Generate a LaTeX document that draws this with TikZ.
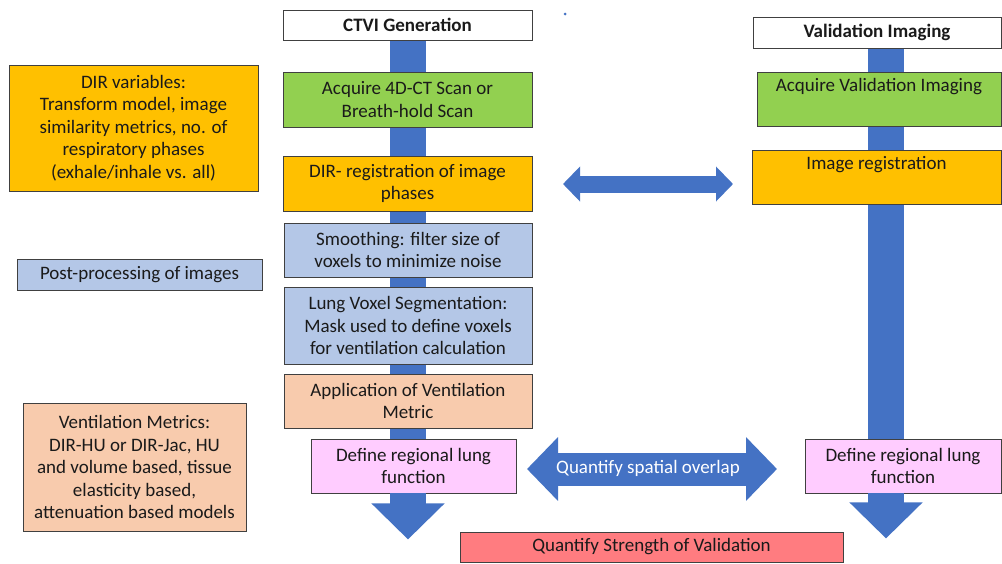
\documentclass[tikz,border=0pt]{standalone}
\usepackage{fontspec}
\setmainfont{Carlito}
\usetikzlibrary{arrows.meta}
\definecolor{boxline}{HTML}{404040}
\definecolor{textc}{HTML}{1A1A1A}
\definecolor{cgreen}{HTML}{92D050}
\definecolor{corange}{HTML}{FFC000}
\definecolor{cblue}{HTML}{B4C7E7}
\definecolor{cpeach}{HTML}{F8CBAD}
\definecolor{cpink}{HTML}{FFCCFF}
\definecolor{cred}{HTML}{FF7C80}
\definecolor{arrowblue}{HTML}{4472C4}
\newcommand\myfont{\fontsize{19}{22.5}\selectfont}
\pgfdeclarelayer{background}
\pgfsetlayers{background,main}
\tikzset{
  pbox/.style={draw=boxline, line width=0.9pt, align=center, inner sep=2pt, font=\myfont, text=textc},
  trunk/.style={draw=arrowblue, line width=36pt},
}
\begin{document}
\begin{tikzpicture}[x=1pt,y=-1pt]
\useasboundingbox (0,0) rectangle (1002,563);

% coordinates for trunks
\coordinate (ltop) at (408,40);
\coordinate (rtop) at (886,48);

% column titles
\node[pbox, fill=white, minimum width=249, minimum height=30] (ctvi) at (407.5,25) {\textbf{CTVI Generation}};
\node[pbox, fill=white, minimum width=248, minimum height=31] (valimg) at (877,32.5) {\textbf{Validation Imaging}};

% left column boxes
\node[pbox, fill=cgreen, minimum width=249, minimum height=55] (acq4d) at (407.5,99.5) {Acquire 4D-CT Scan or\\Breath-hold Scan};
\node[pbox, fill=corange, minimum width=249, minimum height=55] (dirreg) at (407.5,183.5) {DIR- registration of image\\phases};
\node[pbox, fill=cblue, minimum width=248, minimum height=54] (smooth) at (408,250) {Smoothing: filter size of\\voxels to minimize noise};
\node[pbox, fill=cblue, minimum width=248, minimum height=77] (lungseg) at (408,325.5) {Lung Voxel Segmentation:\\Mask used to define voxels\\for ventilation calculation};
\node[pbox, fill=cpeach, minimum width=248, minimum height=54] (applic) at (408,401) {Application of Ventilation\\Metric};
\node[pbox, fill=cpink, minimum width=205, minimum height=54] (defL) at (413.5,466) {Define regional lung\\function};

% right column boxes
\node[pbox, fill=cgreen, minimum width=244, minimum height=54] (acqV) at (879,99) {};
\node[font=\myfont, text=textc] (acqVt) at ([yshift=-15pt]acqV.north) {Acquire Validation Imaging};
\node[pbox, fill=corange, minimum width=249, minimum height=54] (imgreg) at (876.5,177) {};
\node[font=\myfont, text=textc] (imgregt) at ([yshift=-15pt]imgreg.north) {Image registration};
\node[pbox, fill=cpink, minimum width=196, minimum height=54] (defR) at (903,466) {Define regional lung\\function};

% trunks behind boxes
\begin{pgfonlayer}{background}
\fill[white] (0,0) rectangle (1002,563);
\draw[trunk] (ltop) -- (ltop |- defL.north);
\draw[trunk] (rtop) -- (rtop |- defR.north);
\end{pgfonlayer}
\draw[trunk, -{Triangle[length=36pt,width=71pt]}] (ltop |- defL.south) -- ++(0,46);
\draw[trunk, -{Triangle[length=36pt,width=71pt]}] (rtop |- defR.south) -- ++(0,45);

% bottom box
\node[pbox, fill=cred, minimum width=383, minimum height=30] (quant) at (651.5,547) {Quantify Strength of Validation};

% left info boxes
\node[pbox, fill=corange, minimum width=249, minimum height=126] (dirvar) at (133.5,128) {DIR variables:\\Transform model, image\\similarity metrics, no. of\\respiratory phases\\(exhale/inhale vs. all)};
\node[pbox, fill=cblue, minimum width=245, minimum height=31] (post) at (139.5,274.5) {Post-processing of images};
\node[pbox, fill=cpeach, minimum width=223, minimum height=128] (ventm) at (134.5,467) {Ventilation Metrics:\\DIR-HU or DIR-Jac, HU\\and volume based, tissue\\elasticity based,\\attenuation based models};

% double arrows
\coordinate (da1) at (563,184);
\coordinate (da2) at (733,184);
\draw[draw=arrowblue, line width=17pt, {Triangle[length=17pt,width=34pt]}-{Triangle[length=17pt,width=34pt]}] (da1) -- (da2);
\coordinate (db1) at (527,469);
\coordinate (db2) at (777,469);
\draw[draw=arrowblue, line width=33pt, {Triangle[length=31pt,width=62pt]}-{Triangle[length=31pt,width=62pt]}] (db1) -- (db2);
\node[font=\myfont, text=white] (overlap) at (648,468) {Quantify spatial overlap};

% stray dot
\fill[arrowblue] (565,14) circle (1.5);
\end{tikzpicture}
\end{document}
